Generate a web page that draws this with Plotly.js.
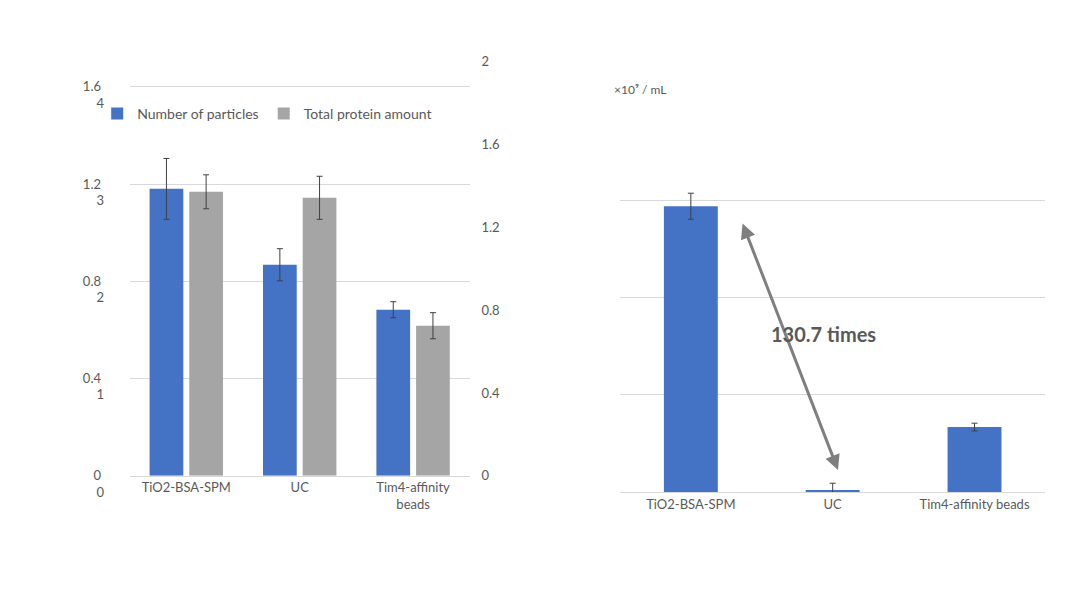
<!DOCTYPE html>
<html>
<head>
<script src="https://cdn.plot.ly/plotly-3.0.1.min.js"></script>
</head>
<body style="margin:0">
<div id="chart" style="width:1080px;height:600px"></div>
<script>
// left chart
const leftCats = ['TiO2-BSA-SPM', 'UC', 'Tim4-affinity<br>beads'];
const particles = [1.18, 0.868, 0.683];
const particlesErr = [0.125, 0.066, 0.033];
const protein = [1.372, 1.343, 0.725];
const proteinErr = [0.082, 0.104, 0.063];

// right chart
const rightCats = ['TiO2-BSA-SPM', 'UC', 'Tim4-affinity beads'];
const counts = [2.94, 0.02, 0.668];
const countsErr = [0.134, 0.07, 0.04];

const blue = '#4472c4', gray = '#a5a5a5', txt = '#595959';
const errStyle = {type: 'data', thickness: 1, width: 3, color: '#404040'};

const traces = [
  {x: leftCats, y: particles, name: 'Number of particles', type: 'bar',
   marker: {color: blue}, error_y: Object.assign({array: particlesErr}, errStyle),
   xaxis: 'x', yaxis: 'y', offsetgroup: 'a'},
  {x: leftCats, y: protein, name: 'Total protein amount', type: 'bar',
   marker: {color: gray}, error_y: Object.assign({array: proteinErr}, errStyle),
   xaxis: 'x', yaxis: 'y2', offsetgroup: 'b'},
  {x: rightCats, y: counts, type: 'bar', showlegend: false,
   marker: {color: blue}, error_y: Object.assign({array: countsErr}, errStyle),
   xaxis: 'x3', yaxis: 'y3', width: 0.38}
];

const tickFont = {family: 'Lato, sans-serif', size: 13, color: txt};
const layout = {
  width: 1080, height: 600,
  margin: {l: 0, r: 0, t: 0, b: 0},
  paper_bgcolor: 'white', plot_bgcolor: 'white',
  font: {family: 'Lato, sans-serif', color: txt},
  barmode: 'group', bargap: 0.3, bargroupgap: 0.15,
  showlegend: true,
  legend: {orientation: 'h', x: 0.09, y: 0.81, xanchor: 'left', yanchor: 'middle',
           font: {size: 14, color: txt}, bgcolor: 'rgba(0,0,0,0)'},
  xaxis: {domain: [0.12, 0.435], anchor: 'y', tickfont: tickFont, showline: true,
          linecolor: '#d9d9d9', ticks: ''},
  yaxis: {domain: [0.207, 0.897], range: [0, 1.7026], dtick: 0.4, tickvals: [0, 0.4, 0.8, 1.2, 1.6],
          ticktext: ['0', '0.4', '0.8', '1.2', '1.6'], tickfont: tickFont,
          gridcolor: '#d9d9d9', zeroline: false, ticklen: 25, tickcolor: 'white', ticks: 'outside'},
  yaxis2: {overlaying: 'y', side: 'right', anchor: 'x', range: [0, 2], dtick: 0.4,
           tickfont: tickFont, showgrid: false, zeroline: false, ticks: 'outside', ticklen: 8, tickcolor: 'white'},
  xaxis3: {domain: [0.574, 0.968], anchor: 'y3', tickfont: tickFont, showline: true,
           linecolor: '#d9d9d9', ticks: ''},
  yaxis3: {domain: [0.18, 0.828], range: [0, 4], dtick: 1, tickfont: tickFont,
           gridcolor: '#d9d9d9', zeroline: false, ticks: 'outside', ticklen: 22, tickcolor: 'white'},
  annotations: [
    {xref: 'paper', yref: 'paper', x: 838 / 1080, y: 1 - 470 / 600,
     axref: 'pixel', ayref: 'pixel', ax: -96, ay: -248, text: '',
     showarrow: true, arrowside: 'end+start', arrowhead: 2, startarrowhead: 2,
     arrowwidth: 3, arrowsize: 1, startarrowsize: 1, arrowcolor: '#7f7f7f'},
    {xref: 'paper', yref: 'paper', x: 878 / 1080, y: 1 - 334 / 600, showarrow: false,
     text: '<b>130.7 times</b>', font: {size: 20, color: txt}},
    {xref: 'paper', yref: 'paper', x: 640 / 1080, y: 1 - 80 / 600, showarrow: false,
     text: '×10⁹ / mL', font: {size: 12, color: txt}}
  ]
};

Plotly.newPlot('chart', traces, layout, {displayModeBar: false});
</script>
</body>
</html>
